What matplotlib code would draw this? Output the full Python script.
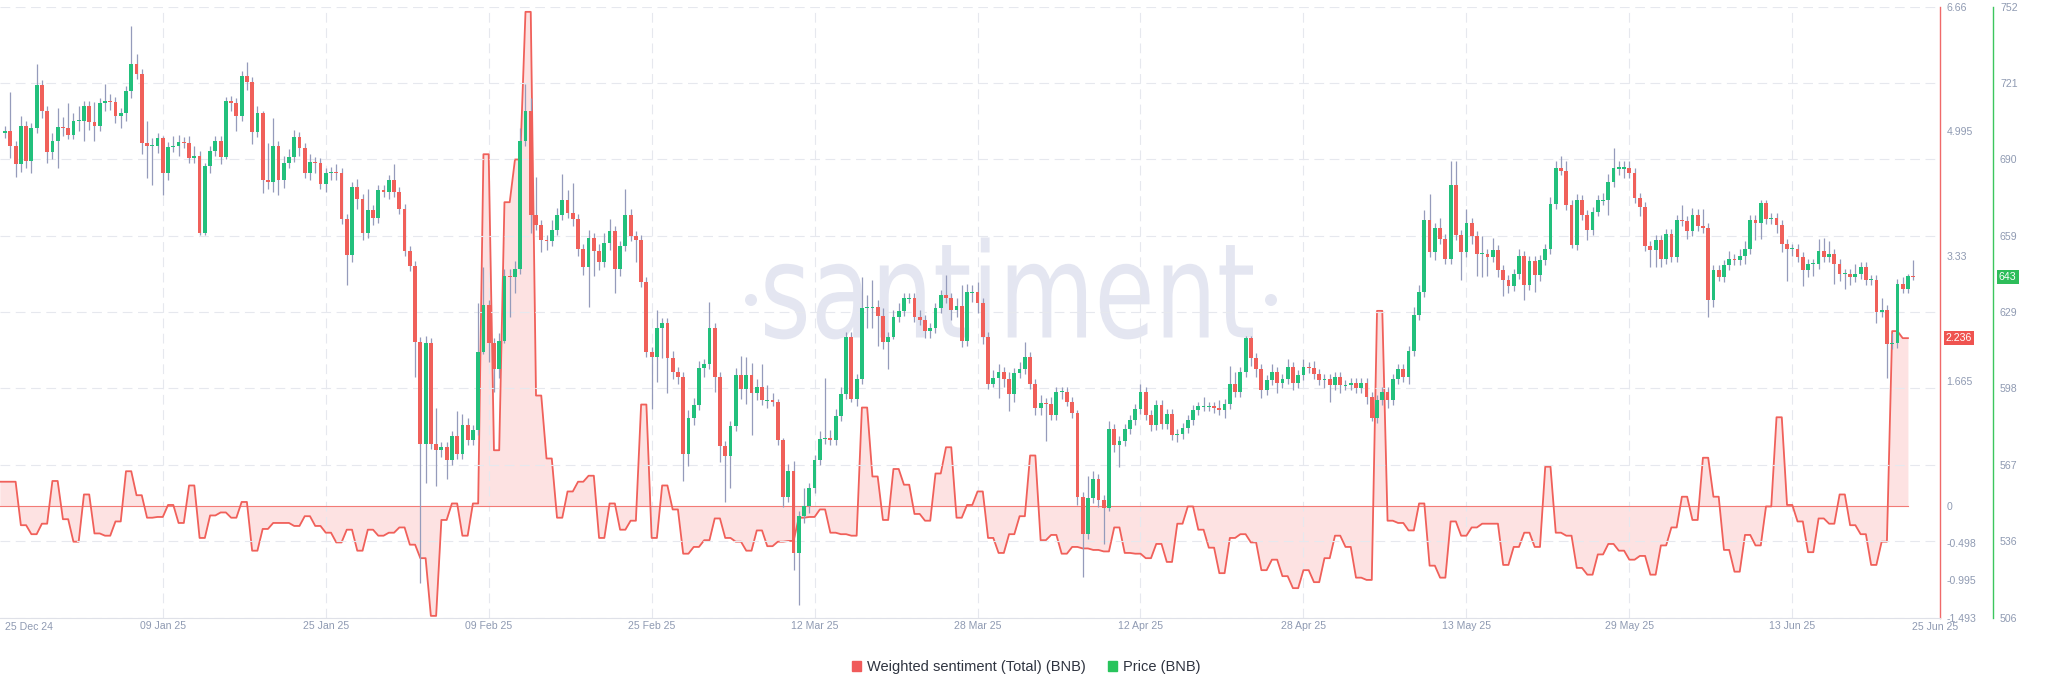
import numpy as np
import matplotlib
matplotlib.use("Agg")
import matplotlib.pyplot as plt
from matplotlib.patches import Patch, PathPatch, Circle
from matplotlib.textpath import TextPath
from matplotlib.font_manager import FontProperties
from matplotlib.transforms import Affine2D, blended_transform_factory

plt.rcParams['font.family'] = ['Liberation Sans', 'DejaVu Sans']
plt.rcParams['lines.scale_dashes'] = False

# 12h BNB candles from 25 Dec 24 00:00 (open of each = previous close)
first_open = 701
closes = [
    702, 696, 688.5, 704, 690, 703, 720.5, 710, 693.5, 698,
    703.5, 703, 700.5, 706, 706, 712, 705.5, 704, 713, 714,
    713.5, 708, 709, 718, 729, 725, 697, 696, 696, 699,
    685, 695.5, 696, 697.5, 697, 691, 692, 661, 688, 694,
    698, 691.5, 714, 713, 708, 724, 721.5, 701.5, 709, 682,
    681.5, 696, 682, 689, 691.5, 699.5, 695, 685, 689.5, 689,
    680.5, 685, 685.5, 685, 666.5, 652, 679.5, 674.5, 661, 670,
    667, 678, 677.5, 682, 677.5, 670.5, 653.5, 647.5, 617, 576,
    616.5, 576, 573.5, 574.5, 569.5, 579, 572, 583.5, 577.5, 581.5,
    613, 632, 616.5, 606, 617.5, 643.5, 643, 646.5, 698, 710,
    668, 664, 658, 657.5, 662, 668, 674, 669, 666.5, 654.5,
    647, 659, 653.5, 649, 657, 661.5, 646.5, 655.5, 668, 659.5,
    658, 641, 613, 611, 622.5, 624.5, 610.5, 605, 603, 572,
    586.5, 591.5, 606.5, 608, 622.5, 603, 575, 571, 583, 603.5,
    598, 603.5, 596.5, 599, 593.5, 593.5, 593, 577.5, 554.5, 565,
    532, 547, 551, 558, 569.5, 578, 578.5, 577.5, 587, 596,
    619, 594, 602, 630.5, 631, 631, 627.5, 617, 619, 627,
    629.5, 634.5, 634.5, 627, 626, 621.5, 622.5, 630.5, 636, 634.5,
    630, 631.5, 617.5, 637, 637, 632.5, 619, 600, 602.5, 605,
    602, 596, 604.5, 606, 611, 600, 590.5, 592.5, 592, 587.5,
    597, 597, 593, 588.5, 554.5, 539.5, 554, 562, 553.5, 550,
    582, 575.5, 577, 582, 585.5, 590, 597, 587.5, 583.5, 591.5,
    584, 588, 579.5, 580, 582.5, 585.5, 589.5, 591, 591, 591,
    590.5, 589.5, 592, 600, 597, 605, 618.5, 610.5, 606, 597.5,
    601.5, 605, 600.5, 602, 607, 600.5, 603.5, 607, 606.5, 604,
    601.5, 602, 599.5, 603, 599.5, 599.5, 600.5, 598.5, 600.5, 595,
    586.5, 593.5, 597, 593.5, 602, 606, 603, 613.5, 628, 637,
    666, 653, 663, 658.5, 650.5, 680, 660, 653, 665, 659.5,
    652.5, 652.5, 651, 654, 646, 642, 639.5, 644.5, 651.5, 640,
    649.5, 644, 650, 654.5, 672.5, 687, 686, 672, 656, 674,
    668, 662, 669.5, 674, 674, 681.5, 687, 687, 687, 685,
    675, 671.5, 655.5, 654, 658, 650.5, 660.5, 651, 666, 665.5,
    661.5, 668, 663.5, 663, 634, 646, 643, 648, 650.5, 650,
    651.5, 654.5, 666, 665, 673, 666.5, 667, 664, 656.5, 654.5,
    654.5, 651, 646, 648.5, 648.5, 653.5, 651, 652.5, 648.5, 644.5,
    644.5, 643, 644.5, 647, 642, 642, 629, 630, 616, 616.5,
    640.5, 638.5, 643.5, 643,
]
# wick length above / below the body, in USD
wick_up = [
    2, 15.5, 2, 4, 2, 2, 8.5, 2, 2, 3, 7.5, 4, 10, 3, 6, 2, 2, 8, 2, 7,
    3, 2, 2, 2, 15, 4, 2, 9, 3, 2, 1, 2, 4, 3, 2, 3, 4, 2, 1, 2,
    2, 2, 1.5, 2, 2, 2, 5.5, 2, 3, 1, 15, 11, 2, 3, 3, 3, 2, 2, 3, 2,
    2, 2, 2, 3, 2, 2, 2, 3, 2, 8.5, 2, 2, 2, 2, 6.5, 2, 2, 2, 2, 2,
    3, 2, 14.5, 2, 2, 2, 10, 4.5, 3, 2, 19.5, 15, 2, 2, 3, 3, 3, 3, 5, 11,
    5, 15.5, 2, 2, 4, 3, 10.5, 4, 12, 2, 2, 3, 2, 3, 4, 5, 2, 2, 10.5, 2.5,
    2, 2, 2, 2, 7.5, 2, 2, 3, 2, 2, 3, 3, 3, 2, 10.5, 2, 2, 2, 2, 3,
    8, 7.5, 5, 3, 9, 6, 3, 1, 1, 3, 4, 2, 7, 2, 2, 3, 24, 3, 3, 3,
    2, 2, 2, 12.5, 5, 11, 3, 3, 2, 3, 3, 2, 2, 2, 3, 2, 2, 2, 2, 8,
    2, 3, 8.5, 3.5, 3, 4, 2, 2, 3, 3, 2, 3, 2, 3, 6, 2, 2, 3, 2, 3,
    2, 2, 2, 2, 1, 2, 9, 3, 2, 2, 3, 2, 2, 2, 2, 2, 3, 2, 2, 2,
    2, 2, 2, 2, 2, 2, 2, 2, 4, 2, 2, 3, 2, 7.5, 5, 2, 1, 1, 2, 2,
    2, 3, 2, 2, 3, 2, 2, 3, 2, 3, 2, 2, 2, 2, 2, 2, 2, 2, 2, 2,
    2, 2, 2, 2, 2, 2, 2, 2, 3, 3, 4, 10.5, 2, 4, 2, 10, 10, 2, 5.5, 2,
    2, 7, 2, 5, 2, 2, 2, 2, 3, 2, 2, 2, 2, 2, 3, 3, 5, 4, 2, 2.5,
    2, 2, 2, 2, 3, 3, 8, 3, 3, 3, 2, 2, 2, 2, 2, 2, 2, 2, 2, 6,
    2, 3, 2.5, 7, 2, 2, 2, 2, 3, 2, 3, 3, 2, 2, 1, 1, 2, 2, 2, 2,
    2, 2, 2, 2, 2, 5, 5.5, 5, 2, 2, 2, 2, 4, 2, 2, 2, 2, 4.5, 2, 4,
    2, 2.5, 1, 6.5,
]
wick_dn = [
    2, 5, 5, 3, 3, 5, 2, 3, 4.5, 3, 11, 3, 2, 2, 4, 8, 3, 6, 2, 3,
    3, 3, 5, 3, 3, 2, 4.5, 13, 16, 3, 9, 3, 2, 4, 2, 2, 2, 1, 1, 3,
    2, 3, 1, 3, 6, 2, 3, 5, 2, 5, 3, 4, 6, 3, 2, 2, 3, 2, 3, 4,
    2, 3, 3, 3, 2, 12, 3, 4, 3, 2, 3, 2, 2, 3, 2, 2, 2, 2, 14, 56,
    16, 2, 14.5, 3, 7.5, 2, 2, 2, 2, 2, 2, 1, 7.5, 9, 3.5, 1, 16, 6.5, 2, 2,
    7, 2, 5, 3.5, 2, 2, 2, 2, 3, 3, 3, 16, 10, 3, 2, 3, 10, 3, 2, 2,
    9, 2, 2, 21, 10, 12, 14, 3, 3, 11, 5, 3, 2, 3.5, 2, 6, 6.5, 18.5, 13, 2,
    4, 6, 17, 3, 2, 3, 2, 2, 4, 2, 7, 21, 3, 3, 2, 2, 2, 2, 2, 2,
    2, 1, 3, 2, 8, 8.5, 12, 3, 11, 1, 2, 2, 2, 2, 2, 3, 3, 2, 2, 2,
    4, 3, 2.5, 2, 4, 4, 3, 2, 1, 8, 3, 7, 3, 2, 2, 2, 3, 3, 15, 2,
    2, 3, 2, 2, 3, 17, 2, 2, 3, 14.5, 1, 3, 9, 2, 2, 2, 2, 2, 2.5, 2,
    2, 2, 2, 3, 2, 2, 2, 2, 2, 2, 2, 2, 3, 2, 2, 2, 2, 3, 3, 3,
    2, 2, 4, 2, 2, 3, 2, 2, 2, 2, 2, 3, 6.5, 2, 3, 2, 2, 2, 2, 3,
    1.5, 2, 2, 3, 2, 2, 2, 3, 2, 2, 2, 2, 3, 2, 2, 2, 2, 11, 2, 3,
    9, 9.5, 7.5, 2, 3, 6.5, 3, 2, 2, 6, 2, 7, 2.5, 2, 2, 2, 2, 2, 1, 2,
    2, 4, 2, 2, 2, 6, 2, 3, 4, 2, 2, 4, 2, 7, 7, 3.5, 2, 2, 2, 2,
    3, 2, 2, 2, 7, 3, 1.5, 2, 2, 2, 2, 3, 2, 7, 6.5, 2, 2, 3, 3.5, 13,
    3, 2, 6.5, 3, 5, 2, 2, 2, 8, 3, 6, 3, 2, 2, 2, 2, 4.5, 2, 13.5, 2,
    2, 2, 2, 1,
]
# daily weighted sentiment, each day shown at two 12h points
sentiment = [
    0.32, 0.32, -0.26, -0.38, -0.24, 0.33, -0.18, -0.48, 0.15, -0.37,
    -0.40, -0.21, 0.46, 0.14, -0.16, -0.15, 0.01, -0.23, 0.27, -0.43,
    -0.13, -0.09, -0.16, 0.05, -0.60, -0.31, -0.23, -0.23, -0.27, -0.14,
    -0.27, -0.36, -0.49, -0.32, -0.60, -0.32, -0.40, -0.36, -0.29, -0.52,
    -0.70, -1.47, -0.19, 0.03, -0.40, 0.03, 4.69, 0.74, 4.05, 4.62,
    6.59, 1.47, 0.63, -0.16, 0.19, 0.32, 0.40, -0.43, 0.03, -0.32,
    -0.20, 1.35, -0.43, 0.27, -0.05, -0.64, -0.55, -0.46, -0.17, -0.43,
    -0.48, -0.60, -0.33, -0.54, -0.48, -0.47, -0.16, -0.15, -0.05, -0.36,
    -0.38, -0.40, 1.31, 0.39, -0.19, 0.49, 0.28, -0.11, -0.20, 0.43,
    0.78, -0.16, 0.01, 0.19, -0.43, -0.63, -0.38, -0.14, 0.67, -0.46,
    -0.39, -0.64, -0.55, -0.57, -0.59, -0.61, -0.29, -0.63, -0.64, -0.70,
    -0.51, -0.75, -0.24, -0.01, -0.32, -0.56, -0.90, -0.43, -0.38, -0.49,
    -0.86, -0.72, -0.94, -1.10, -0.86, -1.02, -0.70, -0.40, -0.55, -0.96,
    -0.99, 2.60, -0.20, -0.23, -0.33, 0.03, -0.80, -0.96, -0.21, -0.40,
    -0.29, -0.24, -0.24, -0.79, -0.55, -0.36, -0.55, 0.52, -0.36, -0.40,
    -0.83, -0.92, -0.65, -0.51, -0.60, -0.72, -0.67, -0.92, -0.53, -0.29,
    0.12, -0.19, 0.64, 0.12, -0.59, -0.88, -0.39, -0.53, -0.01, 1.18,
    0.01, -0.21, -0.62, -0.17, -0.24, 0.15, -0.26, -0.38, -0.79, -0.48,
    2.33, 2.236,
]

date_labels = ['09 Jan 25', '25 Jan 25', '09 Feb 25', '25 Feb 25', '12 Mar 25',
               '28 Mar 25', '12 Apr 25', '28 Apr 25', '13 May 25', '29 May 25',
               '13 Jun 25']
first_label, last_label = '25 Dec 24', '25 Jun 25'
price_labels = ['752', '721', '690', '659', '629', '598', '567', '536', '506']
sent_ticks = [6.66, 4.995, 3.33, 1.665, 0, -0.498, -0.995, -1.493]

RED = '#f0605a'
GREEN = '#22c07c'
AXRED = '#f06a6a'
AXGREEN = '#3cc65e'
TXT = '#8f9ab2'
GRID = '#e6e8ee'
W, H = 2047, 693

fig = plt.figure(figsize=(W / 100, H / 100), dpi=100)

# background layer for watermark (pixel coords, y up)
bg = fig.add_axes([0, 0, 1, 1])
bg.set_xlim(0, W)
bg.set_ylim(0, H)
bg.axis('off')
prop = FontProperties(family='DejaVu Sans')
tp = TextPath((0, 0), 'santiment', size=100, prop=prop)
xp = TextPath((0, 0), 'x', size=100, prop=prop)
ext = tp.get_extents()
xh = xp.get_extents().y1
sx, sy = 488 / ext.width, 72 / xh
tr = Affine2D().translate(-ext.x0, 0).scale(sx, sy).translate(765, H - 337.5) + bg.transData
wm = '#e4e6f1'
bg.add_patch(PathPatch(tp, transform=tr, facecolor=wm, lw=0))
bg.add_patch(Circle((751, H - 300), 6, color=wm, lw=0))
bg.add_patch(Circle((1271, H - 300), 6, color=wm, lw=0))

ax = fig.add_axes([0, 1 - 617.6 / H, 1940 / W, (617.6 - 6.6) / H])
ax.set_zorder(1)
ax.patch.set_alpha(0)
ax2 = ax.twinx()
ax2.set_zorder(2)

# x in days after 25 Dec 24 00:00
x_c = np.arange(len(closes)) / 2
x_s = np.arange(-1, 2 * len(sentiment) - 1) / 2
y_s = np.repeat(sentiment, 2)

ax.fill_between(x_s, y_s, 0, color='#fde2e2', lw=0, zorder=1)
ax.plot([x_s[0], x_s[-1]], [0, 0], color='#f27b76', lw=0.8, zorder=2)
ax.plot(x_s, y_s, color=RED, lw=1.3, zorder=3)
ax.set_ylim(-1.493, 6.66)
ax.set_xlim(-0.485, 184.05)

c = np.array(closes, dtype=float)
o = np.concatenate([[first_open], c[:-1]])
hi = np.maximum(o, c) + np.array(wick_up)
lo = np.minimum(o, c) - np.array(wick_dn)
body = np.maximum(np.abs(c - o), 0.45)
bottom = (o + c) / 2 - body / 2
cols = np.where(c >= o, GREEN, RED)
ax2.vlines(x_c, lo, hi, color='#959bbb', lw=0.9, zorder=2)
ax2.bar(x_c, body, bottom=bottom, width=0.36, color=cols, lw=0, zorder=3)
ax2.set_ylim(506, 752)

# axes styling
for s in ['left', 'top']:
    ax.spines[s].set_visible(False)
    ax2.spines[s].set_visible(False)
ax2.spines['bottom'].set_visible(False)
ax.spines['bottom'].set_color('#dfe1e8')
ax.spines['right'].set_color(AXRED)
ax.spines['right'].set_linewidth(1.0)
ax2.spines['right'].set_position(('axes', 1993.3 / 1940))
ax2.spines['right'].set_color(AXGREEN)
ax2.spines['right'].set_linewidth(1.0)

ax.yaxis.tick_right()
ax.set_yticks(sent_ticks)
ax.set_yticklabels([f'{t:g}' for t in sent_ticks])
ax2.set_yticks(np.linspace(752, 506, len(price_labels)))
ax2.set_yticklabels(price_labels)
ax.tick_params(axis='y', length=0, pad=4.8, labelsize=7.6, labelcolor=TXT)
ax2.tick_params(axis='y', length=0, pad=4.8, labelsize=7.6, labelcolor=TXT)

xt = 15 + 15.5 * np.arange(len(date_labels))
ax.set_xticks(xt)
ax.set_xticklabels(date_labels)
ax.tick_params(axis='x', length=0, pad=2.5, labelsize=7.6, labelcolor=TXT)
fig.text(29 / W, 1 - 627 / H, first_label, ha='center', va='center', fontsize=7.6, color=TXT)
fig.text(1935 / W, 1 - 627 / H, last_label, ha='center', va='center', fontsize=7.6, color=TXT)

ax.xaxis.grid(True, color=GRID, lw=0.8, linestyle=(0, (7, 4)))
ax2.yaxis.grid(True, color=GRID, lw=0.8, linestyle=(0, (7, 4)))
ax2.set_axisbelow(True)

# last value badges
bt = blended_transform_factory(ax.transAxes, ax.transData)
ax.text(1946 / 1940, sentiment[-1], f'{sentiment[-1]:g}', transform=bt, ha='left', va='center',
        fontsize=7.6, color='white',
        bbox=dict(boxstyle='square,pad=0.18', facecolor='#ef5350', edgecolor='none'))
bt2 = blended_transform_factory(ax2.transAxes, ax2.transData)
ax2.text(1999 / 1940, closes[-1], f'{closes[-1]:.0f}', transform=bt2, ha='left', va='center',
         fontsize=7.6, color='white',
         bbox=dict(boxstyle='square,pad=0.18', facecolor='#2ebd5a', edgecolor='none'))

handles = [Patch(color='#f05a5a', label='Weighted sentiment (Total) (BNB)'),
           Patch(color='#28c45c', label='Price (BNB)')]
leg = fig.legend(handles=handles, loc='center', bbox_to_anchor=(1026 / W, 1 - 667 / H), ncol=2,
                 frameon=False, fontsize=10.5, handlelength=0.65, handleheight=0.65,
                 handletextpad=0.4, columnspacing=1.5)
for t in leg.get_texts():
    t.set_color('#2f3440')

fig.savefig('out.png', dpi=100)
